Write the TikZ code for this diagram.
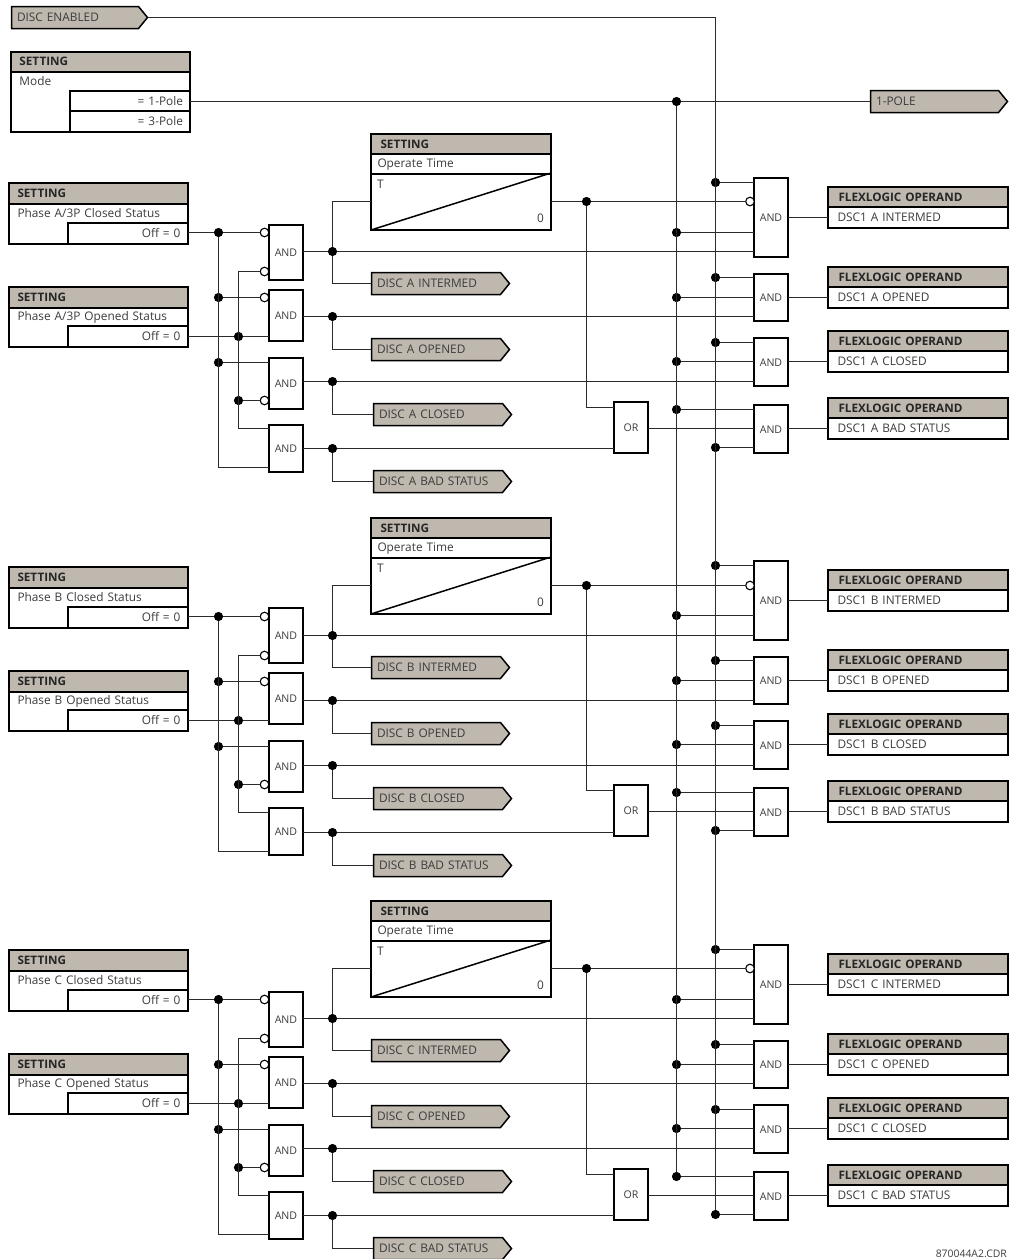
\documentclass[tikz,border=0pt]{standalone}
\usepackage{fontspec}
\setmainfont{Open Sans}
\definecolor{hdr}{HTML}{BFB8AF}
\definecolor{wire}{HTML}{2E2A28}
\definecolor{ink}{HTML}{3C3C3C}
\tikzset{
  basebox/.style={rectangle,inner sep=0pt,outer sep=0pt,text height=7.8pt,text depth=0pt,font=\fontsize{11.85pt}{14pt}\selectfont,text=ink},
  plain/.style={basebox,draw=black,line width=1.6pt,fill=white,align=left},
  rightbox/.style={plain,align=right},
  headbox/.style={plain,fill=hdr,text=black!85,font=\fontsize{11.7pt}{14pt}\selectfont\bfseries},
  bare/.style={basebox,align=left},
  gatebox/.style={basebox,draw=black,line width=1.6pt,fill=white,align=center,font=\fontsize{10.6pt}{13pt}\selectfont,text height=8pt},
  tagshape/.style={draw=black,line width=1.5pt,fill=hdr},
  wireline/.style={draw=wire,line width=1.6pt},
  dot/.style={circle,fill=black,inner sep=0pt,minimum size=9.2pt,outer sep=0pt},
  inv/.style={circle,draw=black,fill=white,line width=1.1pt,inner sep=0pt,minimum size=8.6pt,outer sep=0pt},
  thintext/.style={inner sep=0pt,outer sep=0pt,text=ink,font=\fontsize{11.85pt}{14pt}\selectfont}
}
% [style]{name}{x1}{y1}{x2}{y2}{pad}{text}
\newcommand\boxn[8][plain]{%
  \pgfmathsetmacro\bw{(#5)-(#3)}\pgfmathsetmacro\bh{(#6)-(#4)}\pgfmathsetmacro\tw{\bw-2*(#7)}%
  \pgfmathsetmacro\cx{((#3)+(#5))/2}\pgfmathsetmacro\cy{((#4)+(#6))/2}%
  \pgfmathsetmacro\bw{\bw+1}\pgfmathsetmacro\bh{\bh+1}%
  \node[#1,minimum width=\bw pt,minimum height=\bh pt,text width=\tw pt] (#2) at (\cx,\cy) {#8};}
% {name}{x1}{y1}{x2}{y2}{text}
\newcommand\tagn[6]{%
  \pgfmathsetmacro\mx{(#4)-9}\pgfmathsetmacro\my{((#3)+(#5))/2}%
  \path[tagshape] (#2,#3) -- (\mx,#3) -- (#4,\my) -- (\mx,#5) -- (#2,#5) -- cycle;%
  \boxn[bare]{#1}{#2}{#3}{#4}{#5}{5.5}{#6}}
\begin{document}
\begin{tikzpicture}[x=1pt,y=-1pt]
\useasboundingbox (0,0) rectangle (1013,1259);
% top left
\tagn{enab}{11.5}{6.5}{147.5}{28.5}{DISC ENABLED}
\boxn[plain]{mbody}{11.5}{71.5}{189.5}{131.5}{8}{}
\boxn[headbox]{mhead}{11.5}{52.5}{189.5}{71.5}{8}{SETTING}
\boxn[bare]{mtext}{11.5}{71.5}{189.5}{91.5}{8}{Mode}
\boxn[rightbox]{mone}{70.5}{91.5}{189.5}{111.5}{6.5}{= 1-Pole}
\boxn[rightbox]{mthree}{70.5}{111.5}{189.5}{131.5}{6.5}{= 3-Pole}
\tagn{pole}{870.5}{90.5}{1007.5}{112.5}{1-POLE}
\node[dot] (jm) at (676.5,101.5) {};
\draw[wireline] (mone.east) -- (jm) -- (jm -| pole.west);
% channels
\foreach \p/\n/\o/\r in {A/A\slash 3P/0/0,B/B/384/383,C/C/767/767}{
  % left settings
  \boxn[plain]{sa\p}{9.5}{203.5+\o}{187.5}{243.5+\o}{8}{}
  \boxn[headbox]{sh\p}{9.5}{183.5+\o}{187.5}{203.5+\o}{8}{SETTING}
  \boxn[bare]{st\p}{9.5}{203.5+\o}{187.5}{223.5+\o}{8}{Phase \n{} Closed Status}
  \boxn[rightbox]{sv\p}{68.5}{223.5+\o}{187.5}{243.5+\o}{7}{Off = 0}
  \boxn[plain]{pa\p}{9.5}{307.5+\o}{187.5}{346.5+\o}{8}{}
  \boxn[headbox]{ph\p}{9.5}{287.5+\o}{187.5}{307.5+\o}{8}{SETTING}
  \boxn[bare]{pt\p}{9.5}{307.5+\o}{187.5}{326.5+\o}{8}{Phase \n{} Opened Status}
  \boxn[rightbox]{pv\p}{68.5}{326.5+\o}{187.5}{346.5+\o}{7}{Off = 0}
  % gates
  \boxn[gatebox]{ga\p}{269.5}{225.5+\r}{302.5}{279.5+\r}{0}{AND}
  \boxn[gatebox]{gb\p}{269.5}{290.5+\r}{302.5}{340.5+\r}{0}{AND}
  \boxn[gatebox]{gc\p}{269.5}{358.5+\r}{302.5}{408.5+\r}{0}{AND}
  \boxn[gatebox]{gd\p}{269.5}{425.5+\r}{302.5}{471.5+\r}{0}{AND}
  \node[inv] (ia\p) at (264.5,232.5+\o) {};
  \node[inv] (ib\p) at (264.5,271.5+\o) {};
  \node[inv] (ic\p) at (264.5,297.5+\o) {};
  \node[inv] (id\p) at (264.5,400.5+\o) {};
  \node[dot] (ja\p) at (218.5,232.5+\o) {};
  \node[dot] (jc\p) at (218.5,297.5+\o) {};
  \node[dot] (je\p) at (218.5,362.5+\o) {};
  \node[dot] (jb\p) at (238.5,336.5+\o) {};
  \node[dot] (jd\p) at (238.5,400.5+\o) {};
  \coordinate (la\p) at (218.5,467.5+\o);
  \coordinate (lb\p) at (238.5,271.5+\o);
  \coordinate (lc\p) at (238.5,428.5+\o);
  \draw[wireline] (ja\p -| sv\p.east) -- (ja\p) -- (ia\p.west);
  \draw[wireline] (jb\p -| pv\p.east) -- (jb\p) -- (jb\p -| gb\p.west);
  \draw[wireline] (ja\p) -- (la\p) -- (la\p -| gd\p.west);
  \draw[wireline] (ib\p.west) -- (lb\p) -- (lc\p) -- (lc\p -| gd\p.west);
  \draw[wireline] (jc\p) -- (ic\p.west);
  \draw[wireline] (je\p) -- (je\p -| gc\p.west);
  \draw[wireline] (jd\p) -- (id\p.west);
  % timer
  \boxn[plain]{tl\p}{371.5}{173.5+\o}{550.5}{229.5+\o}{6}{}
  \boxn[headbox]{th\p}{371.5}{134.5+\o}{550.5}{154.5+\o}{9}{SETTING}
  \boxn[plain]{tm\p}{371.5}{154.5+\o}{550.5}{173.5+\o}{6}{Operate Time}
  \draw[line width=1.5pt,draw=black] (tl\p.south west) -- (tl\p.north east);
  \node[thintext,anchor=west] (tt\p) at (377,184+\o) {T};
  \node[thintext,anchor=east] (tz\p) at (544,218+\o) {0};
  % tags
  \tagn{ta\p}{371.5}{272.5+\o}{509.5}{294.5+\o}{DISC \p{} INTERMED}
  \tagn{tb\p}{371.5}{338.5+\o}{509.5}{360.5+\o}{DISC \p{} OPENED}
  \tagn{tc\p}{373.5}{403.5+\o}{511.5}{425.5+\o}{DISC \p{} CLOSED}
  \tagn{td\p}{373.5}{470.5+\o}{511.5}{492.5+\o}{DISC \p{} BAD STATUS}
  % OR and right-hand gates
  \boxn[gatebox]{or\p}{614.5}{402.5+\r}{647.5}{452.5+\r}{0}{OR}
  \boxn[gatebox]{ra\p}{754.5}{178.5+\r}{787.5}{256.5+\r}{0}{AND}
  \boxn[gatebox]{rb\p}{754.5}{274.5+\r}{787.5}{320.5+\r}{0}{AND}
  \boxn[gatebox]{rc\p}{754.5}{338.5+\r}{787.5}{385.5+\r}{0}{AND}
  \boxn[gatebox]{rd\p}{754.5}{405.5+\r}{787.5}{452.5+\r}{0}{AND}
  \node[inv] (ir\p) at (750,201.5+\o) {};
  % output dots
  \node[dot] (oa\p) at (332.5,251.5+\o) {};
  \node[dot] (ob\p) at (332.5,316.5+\o) {};
  \node[dot] (oc\p) at (332.5,381.5+\o) {};
  \node[dot] (od\p) at (332.5,448.5+\o) {};
  \draw[wireline] (oa\p -| ga\p.east) -- (oa\p) -- (oa\p -| ra\p.west);
  \draw[wireline] (ob\p -| gb\p.east) -- (ob\p) -- (ob\p -| rb\p.west);
  \draw[wireline] (oc\p -| gc\p.east) -- (oc\p) -- (oc\p -| rc\p.west);
  \draw[wireline] (od\p -| gd\p.east) -- (od\p) -- (od\p -| or\p.west);
  \draw[wireline] (oa\p) |- (tl\p.west);
  \draw[wireline] (oa\p) |- (ta\p.west);
  \draw[wireline] (ob\p) |- (tb\p.west);
  \draw[wireline] (oc\p) |- (tc\p.west);
  \draw[wireline] (od\p) |- (td\p.west);
  % timer output
  \node[dot] (tj\p) at (586.5,201.5+\o) {};
  \coordinate (tc\p c) at (586.5,407.5+\r);
  \draw[wireline] (tl\p.east) -- (tj\p) -- (ir\p.west);
  \draw[wireline] (tj\p) -- (tc\p c) -- (tc\p c -| or\p.west);
  % vertical-bus dots
  \node[dot] (ea\p) at (715.5,182.5+\r) {};
  \node[dot] (eb\p) at (715.5,277.5+\r) {};
  \node[dot] (ec\p) at (715.5,342.5+\r) {};
  \node[dot] (ed\p) at (715.5,447.5+\r) {};
  \node[dot] (ma\p) at (676.5,232.5+\r) {};
  \node[dot] (mb\p) at (676.5,297.5+\r) {};
  \node[dot] (mc\p) at (676.5,361.5+\r) {};
  \node[dot] (md\p) at (676.5,409.5+\r) {};
  \draw[wireline] (ea\p) -- (ea\p -| ra\p.west);
  \draw[wireline] (eb\p) -- (eb\p -| rb\p.west);
  \draw[wireline] (ec\p) -- (ec\p -| rc\p.west);
  \draw[wireline] (ed\p) -- (ed\p -| rd\p.west);
  \draw[wireline] (ma\p) -- (ma\p -| ra\p.west);
  \draw[wireline] (mb\p) -- (mb\p -| rb\p.west);
  \draw[wireline] (mc\p) -- (mc\p -| rc\p.west);
  \draw[wireline] (md\p) -- (md\p -| rd\p.west);
  % operands
  \boxn[headbox]{fa\p}{828.5}{187.5+\r}{1007.5}{207.5+\r}{10}{FLEXLOGIC OPERAND}
  \boxn[plain]{va\p}{828.5}{207.5+\r}{1007.5}{227.5+\r}{9}{DSC1 \p{} INTERMED}
  \boxn[headbox]{fb\p}{828.5}{267.5+\r}{1007.5}{287.5+\r}{10}{FLEXLOGIC OPERAND}
  \boxn[plain]{vb\p}{828.5}{287.5+\r}{1007.5}{307.5+\r}{9}{DSC1 \p{} OPENED}
  \boxn[headbox]{fc\p}{828.5}{331.5+\r}{1007.5}{351.5+\r}{10}{FLEXLOGIC OPERAND}
  \boxn[plain]{vc\p}{828.5}{351.5+\r}{1007.5}{371.5+\r}{9}{DSC1 \p{} CLOSED}
  \boxn[headbox]{fd\p}{828.5}{398.5+\r}{1007.5}{418.5+\r}{10}{FLEXLOGIC OPERAND}
  \boxn[plain]{vd\p}{828.5}{418.5+\r}{1007.5}{438.5+\r}{9}{DSC1 \p{} BAD STATUS}
  \draw[wireline] (ra\p.east |- va\p.west) -- (va\p.west);
  \draw[wireline] (rb\p.east |- vb\p.west) -- (vb\p.west);
  \draw[wireline] (rc\p.east |- vc\p.west) -- (vc\p.west);
  \draw[wireline] (rd\p.east |- vd\p.west) -- (vd\p.west);
  \draw[wireline] (or\p.east |- vd\p.west) -- (rd\p.west |- vd\p.west);
}
% buses
\draw[wireline] (jm) -- (mdC);
\draw[wireline] (enab.east) -| (edC);
\node[anchor=east,inner sep=0pt,text=ink,font=\fontsize{10.4pt}{12pt}\selectfont] (code) at (1007,1254) {870044A2.CDR};
\end{tikzpicture}
\end{document}
